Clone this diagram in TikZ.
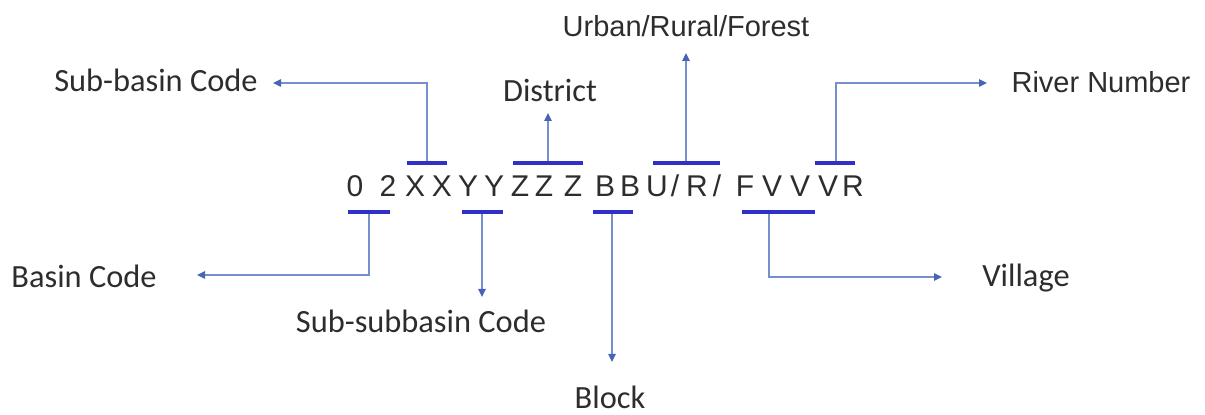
\documentclass[tikz,border=0pt]{standalone}
\usepackage{fontspec}
\setmainfont{Carlito}
\newfontfamily\arialfont{Liberation Sans}
\usetikzlibrary{arrows.meta}
\definecolor{barblue}{RGB}{48,48,200}
\definecolor{lineblue}{RGB}{118,144,206}
\definecolor{tipblue}{RGB}{72,100,180}
\definecolor{textgray}{RGB}{45,45,45}
\tikzset{
  lab/.style={font=\fontsize{16.2}{19}\selectfont, text=textgray, inner sep=0pt, anchor=base},
  arlab/.style={font=\arialfont\fontsize{14.5}{17}\selectfont, text=textgray, inner sep=0pt, anchor=base},
  codechar/.style={font=\arialfont\fontsize{15}{18}\selectfont, text=textgray, inner sep=0pt, anchor=base},
  bar/.style={barblue, line width=1.8pt},
  conn/.style={lineblue, line width=0.9pt, -{Triangle[length=4pt,width=3.6pt,color=tipblue]}},
}
\begin{document}
\begin{tikzpicture}[x=0.5pt,y=-0.5pt]
  \useasboundingbox (0,0) rectangle (1205,415);

  % the code, one letter at a time
  \foreach \ch/\x [count=\i] in {0/355,2/388,X/415,X/442,Y/468,Y/494,Z/520,Z/544,Z/573,B/605,B/630,U/657,\slash/675,R/697,\slash/717,F/745,V/772,V/800,V/828,R/853}
    \node[codechar] (c\i) at (\x,197) {\ch};

  % bar middles and arrow ends
  \coordinate (bSub) at (427,163);
  \coordinate (bDis) at (548,163);
  \coordinate (bUrb) at (686,163);
  \coordinate (bRiv) at (836,163);
  \coordinate (bBas) at (369,212);
  \coordinate (bSsb) at (482,212);
  \coordinate (bBlk) at (612,212);
  \coordinate (bVil) at (769,212);

  \coordinate (tSub) at (273,83);
  \coordinate (tDis) at (548,113);
  \coordinate (tUrb) at (686,53);
  \coordinate (tRiv) at (987,83);
  \coordinate (tBas) at (197,275);
  \coordinate (tSsb) at (482,297);
  \coordinate (tBlk) at (612,362);
  \coordinate (tVil) at (942,277);

  \draw[conn] (bSub) |- (tSub);
  \draw[conn] (bDis) -- (tDis);
  \draw[conn] (bUrb) -- (tUrb);
  \draw[conn] (bRiv) |- (tRiv);
  \draw[conn] (bBas) |- (tBas);
  \draw[conn] (bSsb) -- (tSsb);
  \draw[conn] (bBlk) -- (tBlk);
  \draw[conn] (bVil) |- (tVil);

  % bars over and under the letters
  \draw[bar] (407,163) -- (447,163);
  \draw[bar] (513,163) -- (583,163);
  \draw[bar] (653,163) -- (720,163);
  \draw[bar] (815,163) -- (855,163);
  \draw[bar] (348,212) -- (390,212);
  \draw[bar] (462,212) -- (503,212);
  \draw[bar] (593,212) -- (633,212);
  \draw[bar] (742,212) -- (815,212);

  % labels
  \node[lab] (lSub) at (156,92) {Sub-basin Code};
  \node[lab] (lDis) at (550,102) {District};
  \node[arlab] (lUrb) at (686,37) {Urban/Rural/Forest};
  \node[arlab] (lRiv) at (1101,93) {River Number};
  \node[lab] (lBas) at (84,288) {Basin Code};
  \node[lab] (lSsb) at (421,333) {Sub-subbasin Code};
  \node[lab] (lBlk) at (610,409) {Block};
  \node[lab] (lVil) at (1026,287) {Village};
\end{tikzpicture}
\end{document}
